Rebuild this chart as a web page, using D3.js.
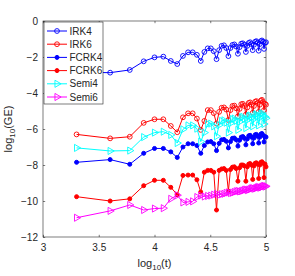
<!DOCTYPE html>
<html>
<head>
<meta charset="utf-8">
<script src="https://cdn.jsdelivr.net/npm/d3@7"></script>
<style>
  body { margin: 0; background: #fff; }
  text { font-family: "Liberation Sans", Arial, sans-serif; fill: #262626; }
</style>
</head>
<body>
<div id="chart"></div>
<script>
const width = 295;
const height = 276;

// time points (t), plotted as log10(t)
const tValues = [2000, 4000, 6000, 8000, 10000, 12000, 14000, 16000, 18000, 20000,
  22000, 24000, 26000, 28000, 30000, 32000, 34000, 36000, 38000, 40000,
  42000, 44000, 46000, 48000, 50000, 52000, 54000, 56000, 58000, 60000,
  62000, 64000, 66000, 68000, 70000, 72000, 74000, 76000, 78000, 80000,
  82000, 84000, 86000, 88000, 90000, 92000, 94000, 96000, 98000, 100000];

// log10(GE) per method
const irk4 = [-2.85, -2.87, -2.72, -2.24, -2.02, -1.98, -2.22, -2.39, -1.94, -1.74,
  -1.74, -1.88, -2.22, -1.72, -1.52, -1.52, -1.68, -2.12, -1.62, -1.38,
  -1.35, -1.5, -1.95, -1.5, -1.33, -1.3, -1.42, -1.82, -1.45, -1.26,
  -1.24, -1.32, -1.72, -1.38, -1.22, -1.18, -1.28, -1.62, -1.32, -1.15,
  -1.12, -1.2, -1.65, -1.28, -1.12, -1.08, -1.15, -1.55, -1.22, -1.18];
const irk6 = [-6.3, -6.52, -6.43, -5.66, -5.46, -5.46, -5.83, -6.18, -5.35, -5.13,
  -5.13, -5.42, -6.05, -5.55, -4.95, -4.95, -5.12, -5.7, -5.05, -4.82,
  -4.8, -4.92, -5.5, -4.95, -4.72, -4.7, -4.85, -5.3, -4.88, -4.62,
  -4.6, -4.72, -5.2, -4.8, -4.55, -4.52, -4.65, -5.1, -4.72, -4.48,
  -4.45, -4.55, -5.05, -4.65, -4.42, -4.38, -4.5, -4.95, -4.6, -4.65];
const fcrk4 = [-7.85, -7.7, -7.96, -7.35, -7.08, -7.08, -7.27, -7.58, -7.0, -6.82,
  -6.82, -6.92, -7.35, -6.92, -6.72, -6.7, -6.82, -7.2, -6.8, -6.6,
  -6.58, -6.68, -7.05, -6.7, -6.52, -6.5, -6.6, -6.95, -6.62, -6.45,
  -6.42, -6.52, -6.88, -6.55, -6.38, -6.35, -6.45, -6.82, -6.5, -6.32,
  -6.3, -6.4, -6.78, -6.45, -6.28, -6.25, -6.35, -6.72, -6.42, -6.45];
const fcrk6 = [-9.76, -10.0, -9.88, -9.15, -8.85, -8.85, -9.24, -9.65, -8.58, -8.56,
  -8.56, -8.82, -9.5, -8.4, -8.3, -8.3, -8.4, -10.5, -8.3, -8.22,
  -8.2, -8.3, -9.45, -8.25, -8.12, -8.1, -8.2, -8.9, -8.15, -8.0,
  -8.0, -8.05, -8.9, -8.1, -7.95, -7.92, -8.0, -8.8, -8.05, -7.9,
  -7.88, -7.95, -8.75, -8.0, -7.85, -7.82, -7.9, -8.7, -7.95, -8.1];
const semi4 = [-7.05, -7.22, -7.2, -6.45, -6.2, -6.15, -6.33, -6.78, -6.02, -5.8,
  -5.8, -5.98, -6.7, -6.2, -5.72, -5.7, -5.85, -6.4, -5.78, -5.55,
  -5.52, -5.65, -6.2, -5.68, -5.45, -5.42, -5.55, -6.05, -5.6, -5.35,
  -5.32, -5.45, -5.95, -5.5, -5.28, -5.25, -5.38, -5.85, -5.45, -5.2,
  -5.18, -5.3, -5.8, -5.38, -5.15, -5.12, -5.25, -5.72, -5.32, -5.4];
const semi6 = [-10.93, -10.55, -10.22, -10.5, -10.42, -10.4, -9.88, -9.68, -10.08, -10.05,
  -10.02, -9.78, -9.7, -9.75, -9.72, -9.7, -9.65, -9.6, -9.66, -9.62,
  -9.6, -9.55, -9.52, -9.56, -9.54, -9.5, -9.46, -9.44, -9.47, -9.45,
  -9.42, -9.38, -9.36, -9.4, -9.37, -9.34, -9.3, -9.28, -9.32, -9.3,
  -9.27, -9.24, -9.22, -9.26, -9.24, -9.21, -9.18, -9.16, -9.2, -9.18];

const seriesNames = ["IRK4", "IRK6", "FCRK4", "FCRK6", "Semi4", "Semi6"];
const seriesColors = ["#0000ff", "#ff0000", "#0000ff", "#ff0000", "#00ffff", "#ff00ff"];
const seriesMarkers = ["circle", "circle", "dot", "dot", "triangle", "triangle"];
const seriesValues = [irk4, irk6, fcrk4, fcrk6, semi4, semi6];

const xTicks = [3, 3.5, 4, 4.5, 5];
const yTicks = [0, -2, -4, -6, -8, -10, -12];

const mLeft = 43, mRight = 266, mTop = 21, mBottom = 237;

const x = d3.scaleLinear().domain([3, 5]).range([mLeft, mRight]);
const y = d3.scaleLinear().domain([-12, 0]).range([mBottom, mTop]);

const svg = d3.select("#chart").append("svg")
  .attr("width", width)
  .attr("height", height);

svg.append("rect").attr("width", width).attr("height", height).attr("fill", "#fff");

// axes, MATLAB style: ticks inside, mirrored on all four sides
const axisColor = "#262626";
const tick = 2.2;

svg.append("g")
  .attr("transform", `translate(0,${mBottom})`)
  .call(d3.axisBottom(x).tickValues(xTicks).tickSizeInner(-tick).tickSizeOuter(0).tickPadding(7).tickFormat(d3.format("")))
  .call(g => g.select(".domain").remove());
svg.append("g")
  .attr("transform", `translate(0,${mTop})`)
  .call(d3.axisTop(x).tickValues(xTicks).tickSizeInner(-tick).tickSizeOuter(0).tickFormat(""))
  .call(g => g.select(".domain").remove());
svg.append("g")
  .attr("transform", `translate(${mLeft},0)`)
  .call(d3.axisLeft(y).tickValues(yTicks).tickSizeInner(-tick).tickSizeOuter(0).tickPadding(5).tickFormat(d3.format("")))
  .call(g => g.select(".domain").remove());
svg.append("g")
  .attr("transform", `translate(${mRight},0)`)
  .call(d3.axisRight(y).tickValues(yTicks).tickSizeInner(-tick).tickSizeOuter(0).tickFormat(""))
  .call(g => g.select(".domain").remove());

svg.selectAll(".tick line").attr("stroke", axisColor).attr("stroke-width", 0.6);
svg.selectAll(".tick text")
  .style("font-family", '"Liberation Sans", Arial, sans-serif')
  .style("font-size", "10px")
  .attr("fill", axisColor);

svg.append("rect")
  .attr("x", mLeft).attr("y", mTop)
  .attr("width", mRight - mLeft).attr("height", mBottom - mTop)
  .attr("fill", "none")
  .attr("stroke", axisColor)
  .attr("stroke-width", 0.6);

// series
const line = d3.line()
  .x(d => x(Math.log10(d.t)))
  .y(d => y(d.v));

function drawMarker(sel, type, color) {
  if (type === "circle") {
    sel.append("circle").attr("r", 2.4).attr("fill", "none")
      .attr("stroke", color).attr("stroke-width", 0.9);
  } else if (type === "dot") {
    sel.append("circle").attr("r", 2).attr("fill", color).attr("stroke", color);
  } else {
    sel.append("path")
      .attr("d", d3.symbol().type(d3.symbolTriangle).size(22)())
      .attr("transform", "rotate(90)")
      .attr("fill", "none").attr("stroke", color).attr("stroke-width", 0.9);
  }
}

seriesValues.forEach((vals, i) => {
  const data = tValues.map((t, j) => ({ t: t, v: vals[j] }));
  const g = svg.append("g");
  g.append("path")
    .datum(data)
    .attr("d", line)
    .attr("fill", "none")
    .attr("stroke", seriesColors[i])
    .attr("stroke-width", 1);
  g.selectAll("g.mk")
    .data(data)
    .enter().append("g")
    .attr("class", "mk")
    .attr("transform", d => `translate(${x(Math.log10(d.t))},${y(d.v)})`)
    .each(function () { drawMarker(d3.select(this), seriesMarkers[i], seriesColors[i]); });
});

// legend
const legend = svg.append("g");
legend.append("rect")
  .attr("x", 44).attr("y", 22)
  .attr("width", 59).attr("height", 82)
  .attr("fill", "#fff")
  .attr("stroke", axisColor)
  .attr("stroke-width", 0.6);

const items = legend.selectAll(".item")
  .data(seriesNames)
  .enter().append("g")
  .attr("class", "item")
  .attr("transform", (d, i) => `translate(0,${31 + i * 13.2})`);

items.append("line")
  .attr("x1", 47).attr("x2", 67)
  .attr("stroke", (d, i) => seriesColors[i])
  .attr("stroke-width", 1);
items.append("g")
  .attr("transform", "translate(57,0)")
  .each(function (d, i) { drawMarker(d3.select(this), seriesMarkers[i], seriesColors[i]); });
items.append("text")
  .attr("x", 69.5)
  .attr("dy", "0.35em")
  .style("font-size", "10px")
  .text(d => d);

// axis labels
const xl = svg.append("text")
  .attr("x", (mLeft + mRight) / 2)
  .attr("y", 267)
  .attr("text-anchor", "middle")
  .style("font-size", "11px");
xl.append("tspan").text("log");
xl.append("tspan").attr("dy", 3).style("font-size", "8px").text("10");
xl.append("tspan").attr("dy", -3).text("(t)");

const yl = svg.append("text")
  .attr("transform", `translate(12,${(mTop + mBottom) / 2}) rotate(-90)`)
  .attr("text-anchor", "middle")
  .style("font-size", "11px");
yl.append("tspan").text("log");
yl.append("tspan").attr("dy", 3).style("font-size", "8px").text("10");
yl.append("tspan").attr("dy", -3).text("(GE)");
</script>
</body>
</html>
